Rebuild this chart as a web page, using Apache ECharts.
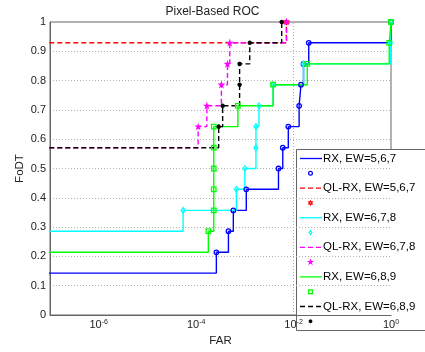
<!DOCTYPE html>
<html>
<head>
<meta charset="utf-8">
<script src="https://cdn.jsdelivr.net/npm/echarts@6.0.0/dist/echarts.min.js"></script>
<style>
  html, body { margin: 0; padding: 0; background: #fff; }
  #chart { width: 425px; height: 352px; }
</style>
</head>
<body>
<div id="chart"></div>
<script>
// FAR (x, log scale) and FoDT (y); 1e-8 = starts off the left edge
const farRX567 = [1e-8, 2.6e-4, 4.6e-4, 5.8e-4, 1.07e-3, 4.9e-3, 6.0e-3, 7.8e-3, 0.013, 0.0142, 0.016, 0.0205, 1];
const fodtRX567 = [0.143, 0.214, 0.286, 0.357, 0.429, 0.5, 0.571, 0.643, 0.714, 0.786, 0.857, 0.929, 1];

const farQL567 = [1e-8, 7.1e-3];
const fodtQL567 = [0.929, 1];

const farRX678 = [1e-8, 5.4e-5, 6.7e-4, 1.0e-3, 1.69e-3, 1.69e-3, 1.95e-3, 3.8e-3, 0.016, 0.97, 1];
const fodtRX678 = [0.286, 0.357, 0.429, 0.5, 0.571, 0.643, 0.714, 0.786, 0.857, 0.929, 1];

const farQL678 = [1e-8, 1.10e-4, 1.66e-4, 3.3e-4, 4.4e-4, 4.9e-4, 7.2e-3];
const fodtQL678 = [0.571, 0.643, 0.714, 0.786, 0.857, 0.929, 1];

const farRX689 = [1e-8, 1.78e-4, 2.3e-4, 2.3e-4, 2.3e-4, 2.3e-4, 2.3e-4, 7.2e-4, 3.8e-3, 0.0191, 0.92, 1];
const fodtRX689 = [0.214, 0.286, 0.357, 0.429, 0.5, 0.571, 0.643, 0.714, 0.786, 0.857, 0.929, 1];

const farQL689 = [1e-8, 2.9e-4, 3.5e-4, 7.8e-4, 7.8e-4, 1.26e-3, 5.7e-3];
const fodtQL689 = [0.571, 0.643, 0.714, 0.786, 0.857, 0.929, 1];

const farGrid = [1e-6, 1e-4, 1e-2];

const names = ['RX, EW=5,6,7', 'QL-RX, EW=5,6,7', 'RX, EW=6,7,8', 'QL-RX, EW=6,7,8', 'RX, EW=6,8,9', 'QL-RX, EW=6,8,9'];

const FONT = '"Liberation Sans", Arial, sans-serif';

// marker shapes (matlab o h d p s *), unit points scaled to radius 5
const hexPts = [[0,-5],[1.443,-2.5],[4.33,-2.5],[2.887,0],[4.33,2.5],[1.443,2.5],[0,5],[-1.443,2.5],[-4.33,2.5],[-2.887,0],[-4.33,-2.5],[-1.443,-2.5]];
const pentaPts = [[0,-5],[1.123,-1.545],[4.755,-1.545],[1.817,0.59],[2.939,4.045],[0,1.91],[-2.939,4.045],[-1.817,0.59],[-4.755,-1.545],[-1.123,-1.545]];
const diamondPts = [[0,-5],[3.5,0],[0,5],[-3.5,0]];
const squarePts = [[-5,-5],[5,-5],[5,5],[-5,5]];
const starSegs = [[0,-5,0,5],[-5,0,5,0],[-3.5,-3.5,3.5,3.5],[-3.5,3.5,3.5,-3.5]];

const toPath = pts => 'path://M' + pts.map(p => p[0] + ',' + p[1]).join('L') + 'Z';

const styles = [
  {color: '#0000ff', dash: false, kind: 'circle', sym: 'circle', size: [4.5, 4.5]},
  {color: '#ff0000', dash: true, kind: 'poly', pts: hexPts, sym: toPath(hexPts), size: [4.5, 4.5]},
  {color: '#00ffff', dash: false, kind: 'poly', pts: diamondPts, sym: toPath(diamondPts), size: [4, 5.5]},
  {color: '#ff00ff', dash: true, kind: 'poly', pts: pentaPts, sym: toPath(pentaPts), size: [4, 4]},
  {color: '#00ff00', dash: false, kind: 'poly', pts: squarePts, sym: 'rect', size: [4.5, 4.5]},
  {color: '#000000', dash: true, kind: 'star', sym: 'path://' + starSegs.map(s => 'M' + s[0] + ',' + s[1] + 'L' + s[2] + ',' + s[3]).join(''), size: [4.5, 4.5]}
];

const fars = [farRX567, farQL567, farRX678, farQL678, farRX689, farQL689];
const fodts = [fodtRX567, fodtQL567, fodtRX678, fodtQL678, fodtRX689, fodtQL689];

const series = names.map((n, k) => {
  const s = styles[k];
  return {
    name: n,
    type: 'line',
    step: 'end',
    data: fars[k].map((x, i) => [x, fodts[k][i]]),
    symbol: s.sym,
    symbolSize: s.size,
    showAllSymbol: true,
    lineStyle: {color: s.color, width: 1.4, type: s.dash ? [5, 3] : 'solid'},
    itemStyle: {color: 'rgba(0,0,0,0)', borderColor: s.color, borderWidth: 1.3},
    z: 3
  };
});

// dotted vertical grid every two decades
series.unshift({
  type: 'line',
  data: [],
  z: 1,
  markLine: {
    silent: true,
    symbol: ['none', 'none'],
    label: {show: false},
    lineStyle: {color: '#b0b0b0', type: [1, 2], width: 1},
    data: farGrid.map(v => ({xAxis: v}))
  }
});

function legendMarker(s, cx, cy) {
  const sc = 0.38;
  const st = {fill: 'none', stroke: s.color, lineWidth: 1.2};
  if (s.kind === 'circle') {
    return {type: 'circle', shape: {cx: cx, cy: cy, r: 1.9}, style: st};
  }
  if (s.kind === 'star') {
    return {
      type: 'group',
      children: starSegs.map(g => ({
        type: 'line',
        shape: {x1: cx + g[0] * sc, y1: cy + g[1] * sc, x2: cx + g[2] * sc, y2: cy + g[3] * sc},
        style: {stroke: s.color, lineWidth: 1.2}
      }))
    };
  }
  return {
    type: 'polygon',
    shape: {points: s.pts.map(p => [cx + p[0] * sc, cy + p[1] * sc])},
    style: st
  };
}

// matlab style legend box
const legendItems = [{
  type: 'rect', shape: {x: 296.5, y: 149.5, width: 140, height: 181},
  style: {fill: '#fff', stroke: '#666', lineWidth: 1}
}];
names.forEach((n, k) => {
  const s = styles[k];
  const y = 158.5 + 29.6 * k;
  legendItems.push({
    type: 'line', shape: {x1: 300, y1: y, x2: 322, y2: y},
    style: {stroke: s.color, lineWidth: 1.3, lineDash: s.dash ? [5, 3] : null}
  });
  legendItems.push({
    type: 'text', x: 323, y: y,
    style: {text: n, fill: '#000', font: '11.5px ' + FONT, verticalAlign: 'middle'}
  });
  legendItems.push(legendMarker(s, 310.5, y + 14.8));
});

const chart = echarts.init(document.getElementById('chart'));
chart.setOption({
  animation: false,
  backgroundColor: '#fff',
  textStyle: {fontFamily: FONT},
  title: {
    text: 'Pixel-Based ROC',
    left: 'center',
    top: 1,
    textStyle: {fontSize: 12, fontWeight: 'normal', color: '#222', fontFamily: FONT}
  },
  grid: {
    left: 50, right: 34, top: 22, bottom: 33,
    show: true, borderColor: '#666', borderWidth: 1
  },
  xAxis: {
    type: 'log',
    logBase: 10,
    min: 1e-7,
    max: 1,
    name: 'FAR',
    nameLocation: 'middle',
    nameGap: 20,
    nameMoveOverlap: false,
    nameTextStyle: {fontSize: 11.5, color: '#222'},
    axisLine: {show: true, lineStyle: {color: '#666'}},
    axisTick: {show: false},
    splitLine: {show: false},
    axisLabel: {
      margin: 4,
      color: '#222',
      formatter: function (v) {
        const e = Math.round(Math.log10(v));
        return e % 2 === 0 ? '{b|10}{s|' + e + '}' : '';
      },
      rich: {
        b: {fontSize: 11, color: '#222', fontFamily: FONT},
        s: {fontSize: 7, color: '#222', verticalAlign: 'top', fontFamily: FONT}
      }
    }
  },
  yAxis: {
    type: 'value',
    min: 0,
    max: 1,
    interval: 0.1,
    name: 'FoDT',
    nameLocation: 'middle',
    nameGap: 24,
    nameMoveOverlap: false,
    nameTextStyle: {fontSize: 11.5, color: '#222'},
    axisLine: {show: true, lineStyle: {color: '#666'}},
    axisTick: {show: false},
    axisLabel: {fontSize: 11, color: '#222', margin: 4},
    splitLine: {show: true, lineStyle: {color: '#b0b0b0', type: [1, 2]}}
  },
  graphic: [{type: 'group', z: 100, children: legendItems}],
  series: series
});
</script>
</body>
</html>
